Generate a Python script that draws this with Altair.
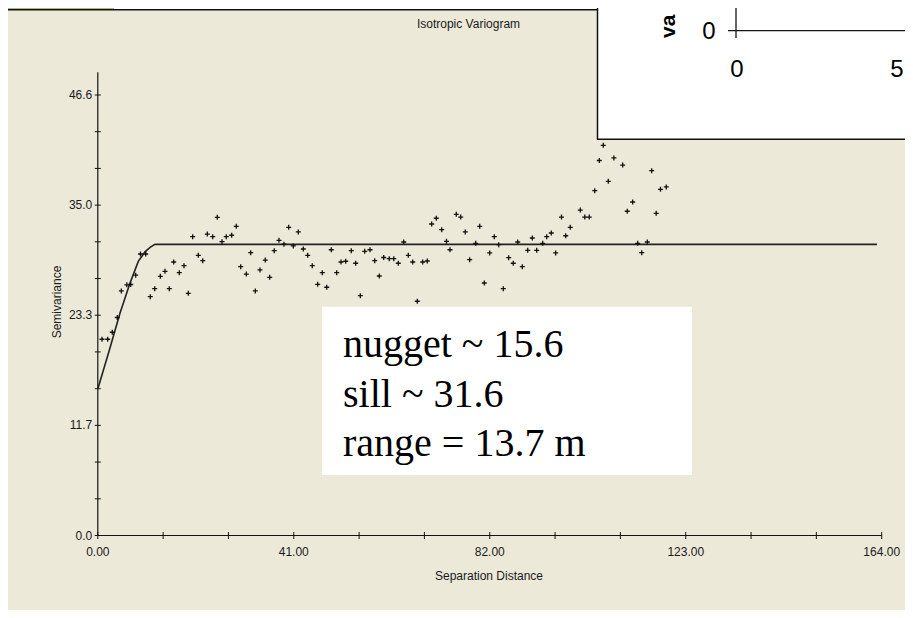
import altair as alt
import pandas as pd

# ---------------- data ----------------
lag = [0.88, 2.07, 3.03, 4.08, 4.92, 6.07, 6.88, 7.93, 8.93, 10.02,
       10.98, 11.90, 13.08, 14.06, 14.96, 15.88, 17.05, 18.03, 18.93, 19.85,
       21.03, 21.95, 22.91, 24.04, 25.00, 25.98, 26.88, 28.01, 28.97, 29.90,
       31.07, 31.99, 32.95, 33.93, 35.04, 35.96, 36.92, 37.91, 38.95, 39.94,
       40.90, 41.95, 42.99, 43.91, 44.87, 46.00, 46.97, 47.89, 48.85, 49.98,
       50.88, 51.86, 53.03, 53.95, 54.92, 55.84, 56.95, 57.93, 58.89, 59.81,
       60.98, 61.92, 62.87, 64.00, 64.96, 65.88, 66.84, 67.97, 68.93, 69.85,
       70.82, 71.95, 72.95, 73.68, 75.00, 75.92, 76.88, 77.80, 79.06, 79.90,
       80.86, 81.99, 82.95, 83.87, 84.83, 85.96, 86.92, 87.85, 88.81, 89.94,
       90.90, 91.82, 93.07, 93.91, 94.87, 95.79, 97.01, 97.89, 98.85, 100.94,
       101.88, 102.82, 103.97, 104.92, 105.75, 106.80, 107.97, 109.81, 110.77, 111.90,
       112.95, 113.79, 114.96, 115.88, 116.82, 117.72, 118.93]
semivariance = [20.76, 20.76, 21.50, 23.06, 25.87, 26.52, 26.55, 27.54, 29.78, 29.78,
                25.26, 26.11, 27.42, 27.95, 26.11, 28.93, 27.80, 28.54, 25.62, 31.61,
                29.64, 29.07, 31.89, 31.61, 33.66, 31.08, 31.61, 31.76, 32.71, 28.44,
                27.66, 29.92, 25.87, 28.09, 29.14, 27.31, 30.13, 31.23, 30.81, 32.60,
                30.63, 32.11, 30.31, 29.64, 28.54, 26.57, 27.80, 26.26, 30.23, 27.80,
                28.93, 29.01, 30.13, 28.80, 25.37, 30.06, 30.23, 29.07, 27.45, 29.41,
                29.28, 29.28, 28.80, 31.05, 29.64, 28.93, 24.78, 28.93, 29.04, 32.95,
                33.56, 32.35, 31.12, 30.23, 33.98, 33.69, 32.11, 29.18, 30.91, 32.71,
                26.71, 29.89, 31.61, 30.76, 26.11, 29.39, 28.80, 31.05, 28.44, 30.17,
                31.47, 30.17, 30.91, 31.61, 32.00, 29.89, 33.69, 31.71, 32.60, 34.43,
                33.69, 33.69, 36.48, 39.67, 41.28, 37.47, 39.94, 39.19, 34.30, 35.28,
                30.91, 29.92, 31.05, 38.59, 34.08, 36.62, 36.87]

model_lag = [0.0, 2.41, 4.64, 6.74, 8.47, 9.87, 11.0, 11.97, 163.0]
model_gamma = [15.5, 19.6, 23.5, 26.7, 29.0, 30.0, 30.5, 30.8, 30.8]

y_tick_values = [0, 3.88, 7.77, 11.65, 15.53, 19.42, 23.3, 27.18, 31.07, 34.95, 38.83, 42.72, 46.6]
y_label_values = [0, 11.65, 23.3, 34.95, 46.6]
y_label_text = ["0.0", "11.7", "23.3", "35.0", "46.6"]

x_tick_values = [0, 13.67, 27.33, 41, 54.67, 68.33, 82, 95.67, 109.33, 123, 136.67, 150.33, 164]
x_label_values = [0, 41, 82, 123, 164]
x_label_text = ["0.00", "41.00", "82.00", "123.00", "164.00"]

notes = ["nugget ~ 15.6", "sill ~ 31.6", "range = 13.7 m"]
chart_title = "Isotropic Variogram"
x_title = "Separation Distance"
y_title = "Semivariance"
inset_texts = ["va", "0", "0", "5"]

# ---------------- layout (pixels, page coordinates) ----------------
PAGE = 8                      # body margin of the page
CANVAS_W, CANVAS_H = 897, 602
ORIGIN_X, ORIGIN_Y = 97.8, 72.3   # top-left of the plot area on the page
W, H = 783.9, 463.2
X_DOMAIN, Y_DOMAIN = [0, 164], [0, 49]

BEIGE = "#ECE9D8"
INK = "#141414"
GREEN = "#a9bb7a"
SANS = "Liberation Sans"
SERIF = "Liberation Serif"


def px(x):
    return x - ORIGIN_X


def py(y):
    return y - ORIGIN_Y


one = pd.DataFrame({"d": [0]})
xs = alt.Scale(domain=X_DOMAIN, nice=False, zero=False)
ys = alt.Scale(domain=Y_DOMAIN, nice=False, zero=False)


def rect(x1, x2, y1, y2, color):
    return alt.Chart(one).mark_rect(color=color, opacity=1).encode(
        x=alt.value(px(x1)), x2=alt.value(px(x2)),
        y=alt.value(py(y1)), y2=alt.value(py(y2)))


def rule(x1, x2, y1, y2, color=INK, w=1.2):
    return alt.Chart(one).mark_rule(color=color, strokeWidth=w).encode(
        x=alt.value(px(x1)), x2=alt.value(px(x2)),
        y=alt.value(py(y1)), y2=alt.value(py(y2)))


def label(text, x, y, **kw):
    return alt.Chart(one).mark_text(text=text, **kw).encode(
        x=alt.value(px(x)), y=alt.value(py(y)))


# slide decorations at the top
top_green = rect(0, 114, 0, 9.3, GREEN)
top_white = rect(114, 597, 0, 9.3, "white")
panel_border = rule(5, 597, 9.8, 9.8, "#111", 1.5)

# axes (drawn from tick arrays through the scales)
y_axis_line = alt.Chart(one).mark_rule(color=INK, strokeWidth=1.2).encode(
    x=alt.value(0), y=alt.value(0), y2=alt.value(H))
x_axis_line = alt.Chart(one).mark_rule(color=INK, strokeWidth=1.2).encode(
    x=alt.value(0), x2=alt.value(W), y=alt.value(H))

y_ticks = alt.Chart(pd.DataFrame({"v": y_tick_values})).mark_rule(color=INK, strokeWidth=1).encode(
    y=alt.Y("v:Q", scale=ys, axis=None), x=alt.value(-3), x2=alt.value(3))
x_ticks = alt.Chart(pd.DataFrame({"v": x_tick_values})).mark_rule(color=INK, strokeWidth=1).encode(
    x=alt.X("v:Q", scale=xs, axis=None), y=alt.value(H - 3.5), y2=alt.value(H + 3.5))

y_labels = alt.Chart(pd.DataFrame({"v": y_label_values, "t": y_label_text})).mark_text(
    align="right", baseline="middle", font=SANS, fontSize=12, color="#1a1a1a").encode(
    y=alt.Y("v:Q", scale=ys, axis=None), x=alt.value(-5.5), text="t:N")
x_labels = alt.Chart(pd.DataFrame({"v": x_label_values, "t": x_label_text})).mark_text(
    align="center", baseline="middle", font=SANS, fontSize=12, color="#1a1a1a").encode(
    x=alt.X("v:Q", scale=xs, axis=None), y=alt.value(H + 16.5), text="t:N")

title_txt = label(chart_title, 468.5, 24, font=SANS, fontSize=12, color="#1a1a1a",
                  align="center", baseline="middle")
x_title_txt = label(x_title, 489, 576, font=SANS, fontSize=12, color="#1a1a1a",
                    align="center", baseline="middle")
y_title_txt = label(y_title, 57, 302, font=SANS, fontSize=12, color="#1a1a1a",
                    align="center", baseline="middle", angle=270)

# model curve and experimental points
model = alt.Chart(pd.DataFrame({"lag": model_lag, "gamma": model_gamma})).mark_line(
    color="#222", strokeWidth=1.6).encode(
    x=alt.X("lag:Q", scale=xs, axis=None), y=alt.Y("gamma:Q", scale=ys, axis=None))

points = alt.Chart(pd.DataFrame({"lag": lag, "gamma": semivariance})).mark_point(
    shape="M-1,0L1,0M0,-1L0,1", size=25, filled=False, color="#111",
    strokeWidth=1.3, opacity=1).encode(
    x=alt.X("lag:Q", scale=xs, axis=None), y=alt.Y("gamma:Q", scale=ys, axis=None))

# annotation box
note_box = rect(322, 692, 306.7, 475, "white")
note_lines = [label(t, 343, b, font=SERIF, fontSize=40, color="black",
                    align="left", baseline="alphabetic")
              for t, b in zip(notes, [356.5, 406.5, 456])]

# partly hidden inset chart (top right)
inset_box = rect(597, 913, 0, 139.3, "white")
inset_left = rule(597.5, 597.5, 0, 139.3, "#111", 1.5)
inset_bottom = rule(597, 913, 139.3, 139.3, "#111", 1.5)
inset_vaxis = rule(736, 736, 0, 38, INK, 1.3)
inset_haxis = rule(728, 913, 30.7, 30.7, INK, 1.3)
inset_ytitle = label(inset_texts[0], 675, 38, font=SANS, fontSize=21, fontWeight="bold",
                     color="black", angle=270, align="left", baseline="alphabetic")
inset_y0 = label(inset_texts[1], 709, 31.7, font=SANS, fontSize=24, color="black",
                 align="center", baseline="middle")
inset_x0 = label(inset_texts[2], 737, 70, font=SANS, fontSize=24, color="black",
                 align="center", baseline="middle")
inset_x5 = label(inset_texts[3], 897, 70, font=SANS, fontSize=24, color="black",
                 align="center", baseline="middle")

chart = alt.layer(
    top_green, top_white, panel_border,
    y_axis_line, x_axis_line, y_ticks, x_ticks, y_labels, x_labels,
    title_txt, x_title_txt, y_title_txt,
    model, points,
    note_box, *note_lines,
    inset_box, inset_left, inset_bottom, inset_vaxis, inset_haxis,
    inset_ytitle, inset_y0, inset_x0, inset_x5,
).properties(
    width=W, height=H,
    autosize=alt.AutoSizeParams(type="none"),
    padding={"left": ORIGIN_X - PAGE, "top": ORIGIN_Y - PAGE,
             "right": CANVAS_W - W - (ORIGIN_X - PAGE),
             "bottom": CANVAS_H - H - (ORIGIN_Y - PAGE)},
    background=BEIGE,
).configure_view(strokeWidth=0)

chart.save("out.html", embed_options={"renderer": "svg", "actions": False})
